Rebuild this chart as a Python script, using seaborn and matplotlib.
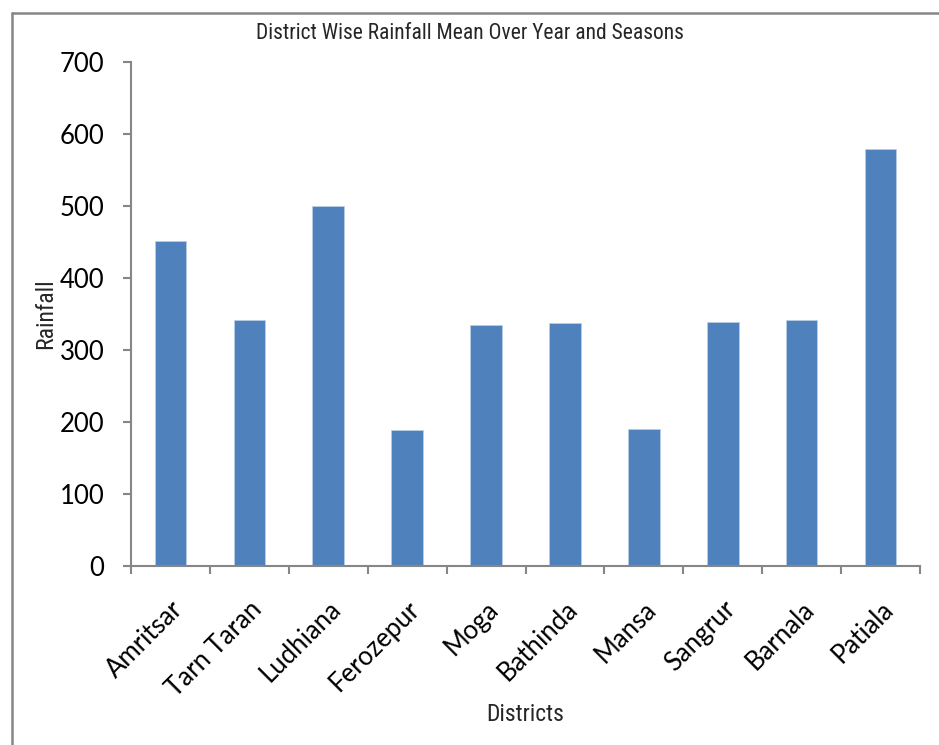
import matplotlib
matplotlib.use('Agg')
import matplotlib.pyplot as plt
from matplotlib import font_manager
from matplotlib.lines import Line2D
import seaborn as sns
import pandas as pd

districts = ['Amritsar', 'Tarn Taran', 'Ludhiana', 'Ferozepur', 'Moga',
             'Bathinda', 'Mansa', 'Sangrur', 'Barnala', 'Patiala']
rainfall = [451, 342, 500, 189, 335, 337, 190, 339, 342, 579]
yticks = [0, 100, 200, 300, 400, 500, 600, 700]

installed = {f.name for f in font_manager.fontManager.ttflist}
narrow = next((n for n in ['Liberation Sans Narrow', 'DejaVu Sans Condensed',
                           'Roboto Condensed', 'Open Sans Condensed']
               if n in installed), 'Roboto')

sns.set_theme(style='white')
plt.rcParams['font.family'] = ['Lato', 'DejaVu Sans']

df = pd.DataFrame({'District': districts, 'Rainfall': rainfall})

fig = plt.figure(figsize=(9.39, 7.45), dpi=100)
ax = fig.add_axes([0.1395, 0.2403, 0.8403, 0.6765])
sns.barplot(data=df, x='District', y='Rainfall', color='#4F81BD',
            saturation=1, width=0.4, edgecolor='#B9CDE5', linewidth=0.6, ax=ax)

ax.set_xlim(-0.5, len(districts) - 0.5)
ax.set_ylim(0, 700)
ax.set_yticks(yticks)
ax.set_yticklabels([str(v) for v in yticks], fontsize=18.5, color='black')
ax.set_xticks(range(len(districts)))
ax.set_xticklabels(districts, fontsize=18.5, color='black', rotation=45,
                   ha='right', rotation_mode='anchor')
ax.set_xticks([i - 0.5 for i in range(len(districts) + 1)], minor=True)
ax.tick_params(axis='x', which='major', length=0, pad=22)
ax.tick_params(axis='x', which='minor', length=6, width=1.5, color='#868686',
               direction='out', bottom=True)
ax.tick_params(axis='y', length=6, width=1.5, color='#868686', direction='out',
               left=True, pad=13)

sns.despine(ax=ax)
for s in ['left', 'bottom']:
    ax.spines[s].set_color('#868686')
    ax.spines[s].set_linewidth(1.5)

ax.set_xlabel('Districts', fontsize=17, family=[narrow, 'DejaVu Sans'])
ax.xaxis.set_label_coords(0.5, -0.272)
ax.set_ylabel('Rainfall', fontsize=17, family=[narrow, 'DejaVu Sans'], labelpad=2)
fig.text(0.5, 0.955, 'District Wise Rainfall Mean Over Year and Seasons',
         ha='center', va='center', fontsize=15.5, family=[narrow, 'DejaVu Sans'])

# chart border (only top and left edges show in the crop)
fig.add_artist(Line2D([12 / 939, 12 / 939], [0, 1 - 13 / 745],
                      transform=fig.transFigure, color='#868686', lw=1.8))
fig.add_artist(Line2D([12 / 939, 1], [1 - 13 / 745, 1 - 13 / 745],
                      transform=fig.transFigure, color='#868686', lw=1.8))

fig.savefig('out.png', dpi=100)
